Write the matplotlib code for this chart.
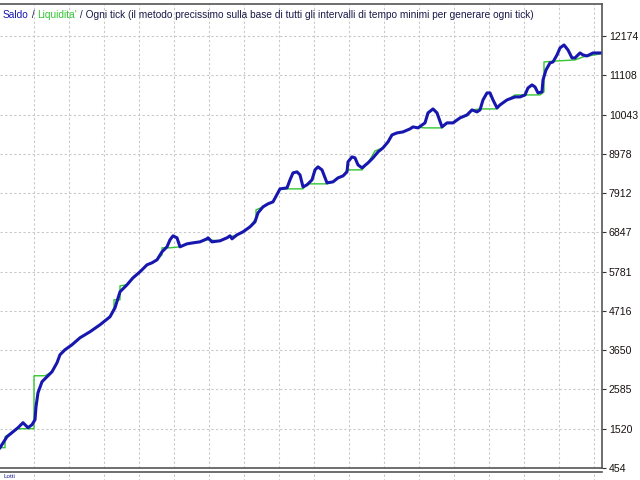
"""
MT4-style strategy tester balance/equity chart.
"""

import matplotlib

matplotlib.use("Agg")
import matplotlib.pyplot as plt
import numpy as np

# ── Data ───────────────────────────────────────────────────────────────────

# blue line (Saldo): trade number, account value
saldo_x = [0, 7, 13, 18, 23, 28, 32, 35, 36, 38, 42, 47, 52, 57, 60, 65, 72, 80, 90, 100,
           110, 115, 120, 127, 133, 140, 147, 152, 157, 162, 167, 170, 173, 177, 180, 187,
           193, 200, 207, 208, 212, 220, 227, 230, 232, 237, 243, 250, 255, 258, 263, 268,
           273, 280, 287, 290, 293, 297, 300, 303, 307, 312, 315, 318, 322, 327, 333, 338,
           343, 347, 348, 352, 355, 358, 362, 368, 373, 378, 383, 388, 392, 397, 403, 410,
           413, 418, 425, 428, 433, 437, 442, 447, 453, 460, 467, 472, 477, 480, 483, 487,
           490, 493, 497, 500, 507, 515, 520, 525, 528, 532, 535, 538, 542, 543, 546, 550,
           553, 557, 560, 564, 568, 572, 575, 580, 583, 587, 593, 600]
saldo_y = [1005, 1303, 1438, 1547, 1683, 1547, 1628, 1764, 2116, 2496, 2794, 2929, 3065,
           3309, 3526, 3662, 3797, 3987, 4150, 4339, 4556, 4800, 5234, 5424, 5613, 5776,
           5966, 6020, 6101, 6318, 6454, 6644, 6752, 6698, 6454, 6535, 6562, 6589, 6671,
           6698, 6589, 6617, 6698, 6752, 6671, 6779, 6860, 6996, 7132, 7376, 7538, 7620,
           7674, 8026, 8053, 8270, 8460, 8487, 8406, 8080, 8135, 8270, 8541, 8623, 8541,
           8189, 8216, 8324, 8378, 8487, 8758, 8894, 8867, 8677, 8595, 8731, 8867, 9029,
           9138, 9300, 9490, 9544, 9571, 9653, 9707, 9680, 9816, 10087, 10195, 10087, 9707,
           9816, 9816, 9951, 10032, 10168, 10114, 10168, 10439, 10629, 10629, 10439, 10222,
           10303, 10439, 10520, 10520, 10574, 10764, 10846, 10791, 10629, 10656, 10981,
           11252, 11442, 11469, 11659, 11849, 11930, 11794, 11578, 11578, 11713, 11659,
           11632, 11713, 11713]

# green line (Liquidita')
liq_x = [0, 5, 5, 13, 18, 34, 34, 45, 52, 57, 60, 65, 72, 80, 90, 100, 110, 114, 114, 120,
         120, 127, 133, 140, 147, 152, 157, 162, 162, 170, 180, 187, 193, 200, 207, 220, 227,
         237, 243, 250, 256, 256, 263, 268, 273, 280, 303, 307, 327, 333, 338, 343, 347,
         362, 368, 375, 375, 383, 388, 392, 397, 403, 410, 413, 425, 442, 447, 453, 460,
         467, 472, 480, 497, 500, 507, 515, 540, 544, 544, 557, 575, 583, 600]
liq_y = [1005, 1005, 1303, 1438, 1520, 1520, 2956, 2956, 3065, 3309, 3526, 3662, 3797, 3987,
         4150, 4339, 4556, 4800, 5017, 5017, 5396, 5424, 5613, 5776, 5966, 6020, 6101, 6237,
         6427, 6427, 6454, 6535, 6562, 6589, 6644, 6617, 6698, 6779, 6860, 6996, 7240, 7457,
         7538, 7620, 7674, 8026, 8026, 8162, 8162, 8216, 8324, 8378, 8541, 8541, 8731, 9056,
         9056, 9138, 9300, 9490, 9544, 9571, 9653, 9707, 9680, 9680, 9816, 9816, 9951, 10005,
         10168, 10195, 10195, 10303, 10439, 10574, 10574, 10656, 11469, 11496, 11523, 11605,
         11686]

y_ticks = [454, 1520, 2585, 3650, 4716, 5781, 6847, 7912, 8978, 10043, 11108, 12174]
title_parts = ["Saldo", " / ", "Liquidita'",
               " / Ogni tick (il metodo precissimo sulla base di tutti gli intervalli di "
               "tempo minimi per generare ogni tick)"]

# ── Style ──────────────────────────────────────────────────────────────────

BLUE = "#1717b0"
GREEN = "#33c533"
GRID = "#c8c8c8"
FONT = ["Liberation Sans", "DejaVu Sans"]

W, H = 640, 480
fig = plt.figure(figsize=(6.4, 4.8), dpi=100)
fig.patch.set_facecolor("white")

ax = fig.add_axes([0, (H - 468) / H, 602 / W, 464 / H])
ax.set_xlim(0, 602)
ax.set_ylim(454, 13041)

grid_x = np.arange(34, 602, 35)
ax.set_xticks(grid_x)
ax.set_yticks(y_ticks)
ax.tick_params(axis="x", length=0, labelbottom=False)
ax.tick_params(axis="y", left=False, labelleft=False, right=True, labelright=True,
               direction="out", length=3, width=0.8, color="#333333", pad=2,
               labelsize=7.6, labelcolor="#1a1010")
for lbl in ax.get_yticklabels():
    lbl.set_family(FONT)

ax.grid(True, color=GRID, linestyle=(0, (2.2, 2.2)), linewidth=0.75)
ax.set_axisbelow(True)

ax.spines["left"].set_visible(False)
for side in ["top", "right", "bottom"]:
    ax.spines[side].set_color("#555555")
    ax.spines[side].set_linewidth(1.2)

ax.plot(liq_x, liq_y, color=GREEN, linewidth=1.0, zorder=3)
ax.plot(saldo_x, saldo_y, color=BLUE, linewidth=2.2, zorder=4, solid_joinstyle="round")

# coloured title built from consecutive pieces
colors = [BLUE, "#1a1a4a", GREEN, "#1a1a4a"]
prev = ax.text(3 / 602, 1 - 14 / 464, title_parts[0], transform=ax.transAxes,
               color=colors[0], fontsize=7.3, family=FONT, va="baseline", ha="left")
for part, col in zip(title_parts[1:], colors[1:]):
    prev = ax.annotate(part, xy=(1, 0), xycoords=prev, va="bottom", ha="left",
                       color=col, fontsize=7.3, family=FONT)

# lots panel below, mostly cut off
ax2 = fig.add_axes([0, -0.1, 602 / W, 0.1 + (H - 472) / H])
ax2.set_xlim(0, 602)
ax2.set_xticks(grid_x)
ax2.set_yticks([])
ax2.tick_params(axis="x", length=0, labelbottom=False)
ax2.grid(True, axis="x", color=GRID, linestyle=(0, (2.2, 2.2)), linewidth=0.75)
for side in ["left", "bottom", "right"]:
    ax2.spines[side].set_visible(False)
ax2.spines["top"].set_color("#555555")
ax2.spines["top"].set_linewidth(1.2)
fig.text(3 / W, 1 / H, "Lotti", color="#1a1a8a", fontsize=4.5, family=FONT,
         va="bottom", ha="left")

fig.savefig("out.png", dpi=100)
